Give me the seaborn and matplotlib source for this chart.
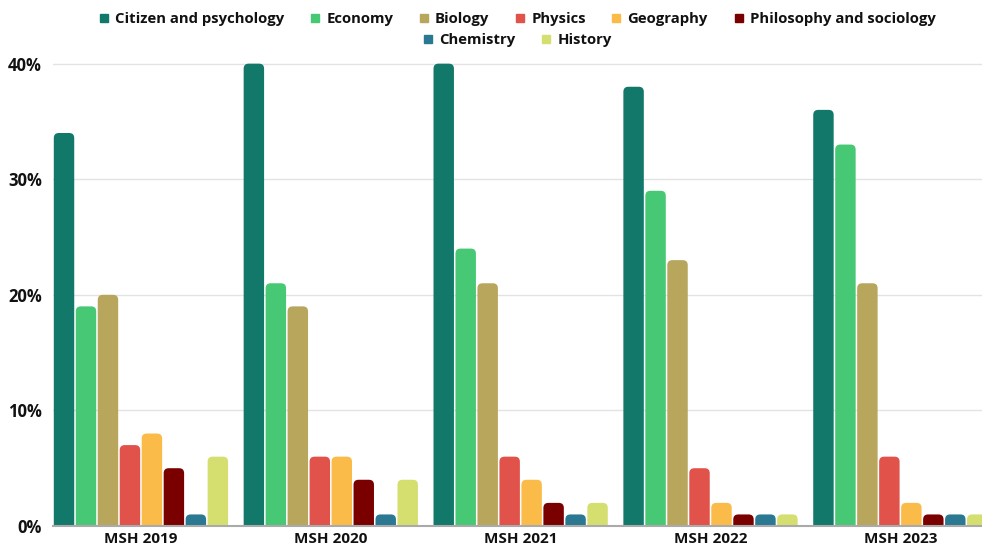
import numpy as np
import pandas as pd
import matplotlib
matplotlib.use("Agg")
import matplotlib.pyplot as plt
import seaborn as sns
from matplotlib.patches import FancyBboxPatch, Rectangle
from matplotlib.lines import Line2D
from matplotlib.ticker import FuncFormatter

groups = ["MSH 2019", "MSH 2020", "MSH 2021", "MSH 2022", "MSH 2023"]
subjects = ["Citizen and psychology", "Economy", "Biology", "Physics",
            "Geography", "Philosophy and sociology", "Chemistry", "History"]
citizen = [34, 40, 40, 38, 36]
economy = [19, 21, 24, 29, 33]
biology = [20, 19, 21, 23, 21]
physics = [7, 6, 6, 5, 6]
geography = [8, 6, 4, 2, 2]
philosophy = [5, 4, 2, 1, 1]
chemistry = [1, 1, 1, 1, 1]
history = [6, 4, 2, 1, 1]
colors = ["#11786a", "#46c874", "#b7a65c", "#e0524a",
          "#fbbb48", "#7a0000", "#2a7892", "#d5df6f"]

series = [citizen, economy, biology, physics, geography, philosophy, chemistry, history]
rows = []
for subj, vals in zip(subjects, series):
    for g, v in zip(groups, vals):
        rows.append({"group": g, "subject": subj, "value": v})
df = pd.DataFrame(rows)

sns.set_theme(style="white")
plt.rcParams["font.family"] = ["Open Sans", "DejaVu Sans"]
plt.rcParams["font.weight"] = "bold"

fig = plt.figure(figsize=(9.82, 5.49), dpi=100)
ax = fig.add_axes([0.054, 0.0419, 0.946, 0.8527])

sns.barplot(data=df, x="group", y="value", hue="subject", hue_order=subjects,
            order=groups, palette=colors, width=0.926, gap=0.07,
            legend=False, ax=ax, saturation=1)

ax.set_xlim(-0.463, 4.43)
ax.set_ylim(0, 40.5)

# rounded tops
px_x = 1 / 190.0
px_y = 10 / 115.75
r = 5 * px_x
aspect = px_y / px_x
for p in list(ax.patches):
    if isinstance(p, Rectangle) and p.get_height() > 0:
        x, w, h = p.get_x(), p.get_width(), p.get_height()
        fc = p.get_facecolor()
        p.remove()
        fb = FancyBboxPatch((x, -1.0), w, h + 1.0,
                            boxstyle=f"round,pad=0,rounding_size={r}",
                            mutation_aspect=aspect, facecolor=fc,
                            edgecolor="none", linewidth=0, zorder=2)
        ax.add_patch(fb)

ax.set_yticks([0, 10, 20, 30, 40])
ax.yaxis.set_major_formatter(FuncFormatter(lambda v, _: f"{int(v)}%"))
ax.grid(axis="y", color="#e3e3e3", linewidth=1)
ax.set_axisbelow(True)
for s in ["left", "right", "top"]:
    ax.spines[s].set_visible(False)
ax.spines["bottom"].set_color("#aaaaaa")
ax.spines["bottom"].set_linewidth(1.5)
ax.spines["bottom"].set_zorder(3)
ax.tick_params(axis="y", length=0, labelsize=12, colors="#111111", pad=8)
ax.tick_params(axis="x", length=0, labelsize=11, colors="#111111", pad=4)
for t in ax.get_xticklabels() + ax.get_yticklabels():
    t.set_fontweight("bold")
ax.set_xlabel("")
ax.set_ylabel("")

handles = [Line2D([], [], marker="s", linestyle="", markersize=5.5,
                  markerfacecolor=c, markeredgecolor=c) for c in colors]
common = dict(loc="center", frameon=False, handlelength=0.6,
              handletextpad=0.45, columnspacing=1.75, borderpad=0,
              prop={"size": 10.75, "weight": "bold"})
leg1 = fig.legend(handles[:6], subjects[:6], ncol=6,
                  bbox_to_anchor=(0.527, 1 - 19 / 549), **common)
leg2 = fig.legend(handles[6:], subjects[6:], ncol=2,
                  bbox_to_anchor=(0.527, 1 - 40 / 549), **common)
for leg in (leg1, leg2):
    for t in leg.get_texts():
        t.set_color("#111111")

fig.savefig("out.png", dpi=100)
